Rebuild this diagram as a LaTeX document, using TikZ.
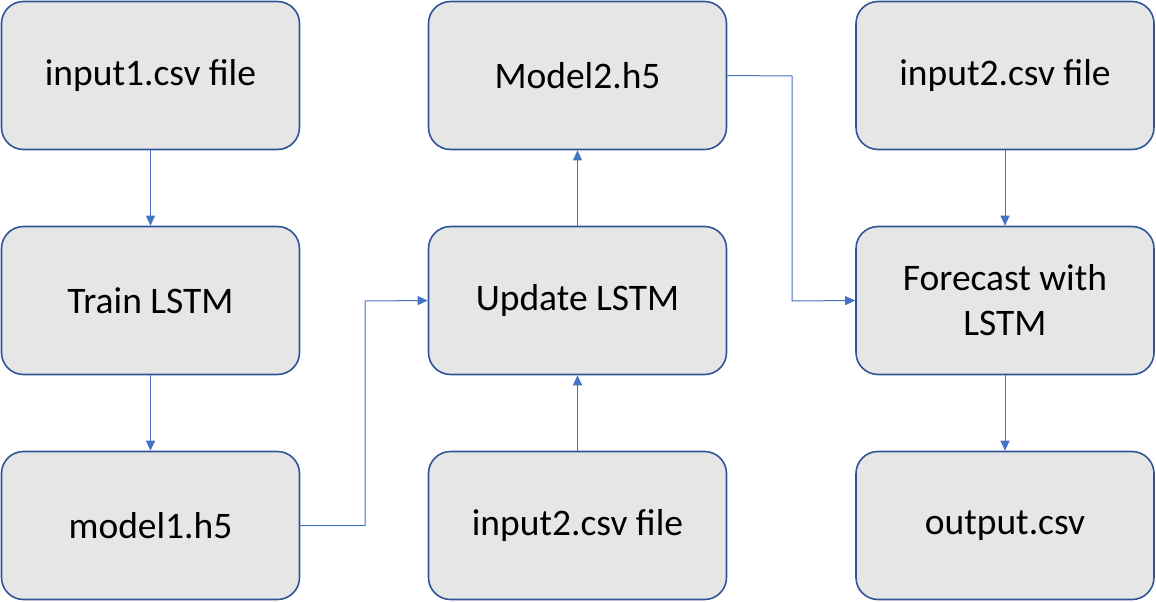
\documentclass[tikz,border=0pt]{standalone}
\usepackage{fontspec}
\setmainfont{Carlito}
\usetikzlibrary{arrows.meta}
\definecolor{boxfill}{HTML}{E6E6E6}
\definecolor{boxline}{HTML}{2F5597}
\definecolor{arrowc}{HTML}{4472C4}
\tikzset{
  stagebox/.style={draw=boxline, line width=1.6pt, fill=boxfill, rounded corners=22pt,
    minimum width=298pt, minimum height=148pt, inner sep=0pt, align=center,
    font=\fontsize{37.5pt}{45pt}\selectfont, text=black},
  flow/.style={draw=arrowc, line width=1pt, -{Triangle[length=10pt,width=9pt]}}
}
\begin{document}
\begin{tikzpicture}[x=1pt,y=-1pt]
\useasboundingbox (0,0) rectangle (1156,602);
\node[stagebox] (in1) at (150.5,75.5) {input1.csv file};
\node[stagebox] (train) at (150.5,300.5) {Train LSTM};
\node[stagebox] (m1) at (150.5,525.5) {model1.h5};
\node[stagebox] (m2) at (577.5,75.5) {Model2.h5};
\node[stagebox] (upd) at (577.5,300.5) {Update LSTM};
\node[stagebox] (in2a) at (577.5,525.5) {input2.csv file};
\node[stagebox] (in2b) at (1005,75.5) {input2.csv file};
\node[stagebox] (fc) at (1005,300.5) {Forecast with\\LSTM};
\node[stagebox] (out) at (1005,525.5) {output.csv};
\coordinate (k1) at (365,525.5);
\coordinate (k2) at (365,301);
\coordinate (k3) at (792,76);
\coordinate (k4) at (792,301);
\draw[flow] (in1) -- (train);
\draw[flow] (train) -- (m1);
\draw[flow] (m1.east) -- (k1) -- (k2) -- (upd.west);
\draw[flow] (in2a) -- (upd);
\draw[flow] (upd) -- (m2);
\draw[flow] (m2.east) -- (k3) -- (k4) -- (fc.west);
\draw[flow] (in2b) -- (fc);
\draw[flow] (fc) -- (out);
\end{tikzpicture}
\end{document}
